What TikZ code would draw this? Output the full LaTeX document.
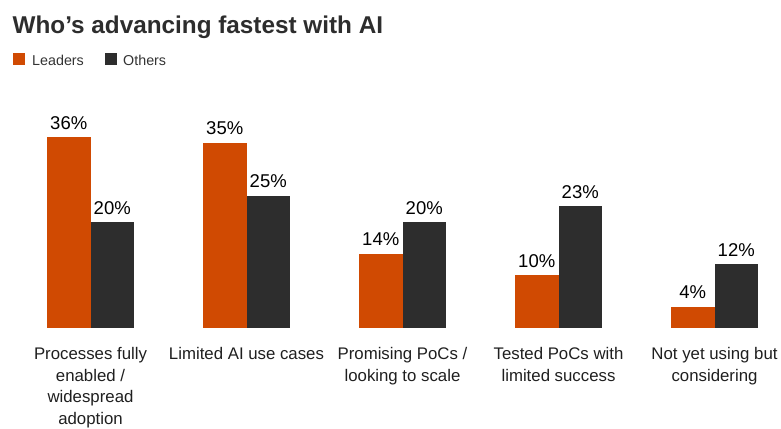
\documentclass[tikz,border=0pt]{standalone}
\usepackage{fontspec}
\setmainfont{Liberation Sans}
\definecolor{leadorange}{HTML}{D04A02}
\definecolor{otherdark}{HTML}{2D2D2D}

\begin{document}
\begin{tikzpicture}[x=1pt,y=-1pt,
	bar leader/.style={fill=leadorange},
	bar other/.style={fill=otherdark},
	value/.style={anchor=base,inner sep=0pt,text=black,font=\fontsize{18.5}{22}\selectfont},
	category/.style={anchor=north,inner sep=0pt,align=center,text=black!88,font=\fontsize{16.8}{21.5}\selectfont},
	keytext/.style={anchor=base west,inner sep=0pt,text=black!80,font=\fontsize{14.3}{17}\selectfont}]

	\useasboundingbox (0,0) rectangle (781,428);

	\node[anchor=base west,inner sep=0pt,text=otherdark,font=\bfseries\fontsize{24.3}{29}\selectfont] (title) at (12.5,33.3) {Who’s advancing fastest with AI};

	\fill[bar leader] (13,53.3) rectangle (25,65);
	\node[keytext] (keyl) at (32,65) {Leaders};
	\fill[bar other] (105,53.3) rectangle (117,65);
	\node[keytext] (keyo) at (123,65) {Others};

	\fill[bar leader] (47,328) rectangle (90.5,137.2);
	\fill[bar other]  (90.5,328) rectangle (134,222);
	\fill[bar leader] (203,328) rectangle (246.5,142.5);
	\fill[bar other]  (246.5,328) rectangle (290,195.5);
	\fill[bar leader] (359,328) rectangle (402.5,253.8);
	\fill[bar other]  (402.5,328) rectangle (446,222);
	\fill[bar leader] (515,328) rectangle (558.5,275);
	\fill[bar other]  (558.5,328) rectangle (602,206.1);
	\fill[bar leader] (671,328) rectangle (714.5,306.8);
	\fill[bar other]  (714.5,328) rectangle (758,264.4);

	\node[value] (l1) at (68.75,129.2)  {36\%};
	\node[value] (o1) at (112.25,214)   {20\%};
	\node[value] (l2) at (224.75,134.5) {35\%};
	\node[value] (o2) at (268.25,187.5) {25\%};
	\node[value] (l3) at (380.75,245.8) {14\%};
	\node[value] (o3) at (424.25,214)   {20\%};
	\node[value] (l4) at (536.75,267)   {10\%};
	\node[value] (o4) at (580.25,198.1) {23\%};
	\node[value] (l5) at (692.75,298.8) {4\%};
	\node[value] (o5) at (736.25,256.4) {12\%};

	\node[category] (c1) at (90.5,347.5)  {Processes fully\\enabled /\\widespread\\adoption};
	\node[category] (c2) at (246.5,347.5) {Limited AI use cases};
	\node[category] (c3) at (402.5,347.5) {Promising PoCs /\\looking to scale};
	\node[category] (c4) at (558.5,347.5) {Tested PoCs with\\limited success};
	\node[category] (c5) at (714.5,347.5) {Not yet using but\\considering};

\end{tikzpicture}
\end{document}
